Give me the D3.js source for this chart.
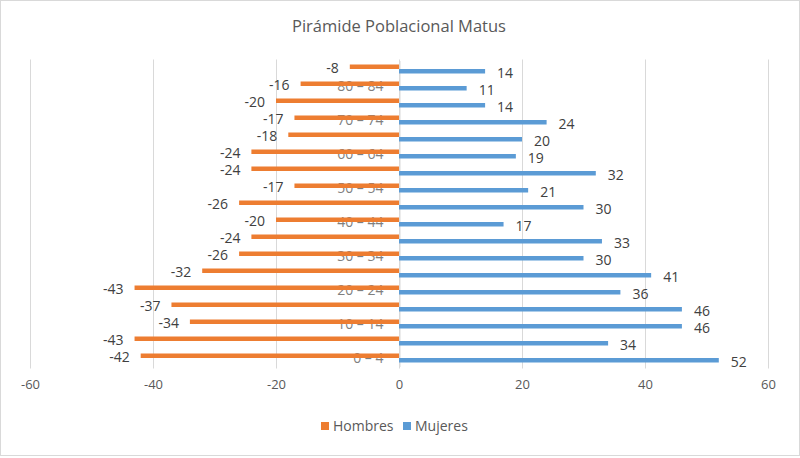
<!DOCTYPE html>
<html>
<head>
<meta charset="utf-8">
<script src="https://cdn.jsdelivr.net/npm/d3@7"></script>
<style>
  html, body { margin: 0; padding: 0; background: #fff; }
  svg { display: block; font-family: "Open Sans", "Noto Sans", sans-serif; }
</style>
</head>
<body>
<svg id="chart" width="800" height="458"></svg>
<script>
// ---- Data ----
const categories = ["0 – 4","5 – 9","10 – 14","15 – 19","20 – 24","25 – 29","30 – 34","35 – 39","40 – 44","45 – 49","50 – 54","55 – 59","60 – 64","65 – 69","70 – 74","75 – 79","80 – 84","85 y más"];
const hombres = [-42,-43,-34,-37,-43,-32,-26,-24,-20,-26,-17,-24,-24,-18,-17,-20,-16,-8];
const mujeres = [52,34,46,46,36,41,30,33,17,30,21,32,19,20,24,14,11,14];
const xTicks = [-60,-40,-20,0,20,40,60];
const seriesNames = ["Hombres","Mujeres"];
const seriesColors = ["#ED7D31","#5B9BD5"];
const title = "Pirámide Poblacional Matus";

const svg = d3.select("#chart");
const W = 800, H = 458;

// chart border
svg.append("rect").attr("x",0.5).attr("y",0.5).attr("width",W-1).attr("height",H-3)
  .attr("fill","#fff").attr("stroke","#d9d9d9");

const plot = {left:30, right:768, top:60.5, bottom:366.5};

const x = d3.scaleLinear().domain([-60,60]).range([plot.left, plot.right]);
const y = d3.scaleBand().domain(categories).range([plot.bottom, plot.top]).paddingInner(0).paddingOuter(0);
const sub = d3.scaleBand().domain(seriesNames).range([0, 9]);

// title
svg.append("text").attr("x",399).attr("y",32).attr("text-anchor","middle")
  .attr("font-size",16.5).attr("fill","#595959").text(title);

// gridlines
svg.append("g").selectAll("line").data(xTicks).join("line")
  .attr("x1",d=>Math.round(x(d))+0.5).attr("x2",d=>Math.round(x(d))+0.5)
  .attr("y1",plot.top-1).attr("y2",plot.bottom+2)
  .attr("stroke","#d9d9d9").attr("stroke-width",1);

// x axis labels
const xAxis = d3.axisBottom(x).tickValues(xTicks).tickSize(0).tickPadding(0).tickFormat(d => String(d));
const gx = svg.append("g").attr("transform",`translate(0,${plot.bottom+18})`).call(xAxis);
gx.select(".domain").remove();
gx.selectAll("text").attr("font-size",13).attr("fill","#595959").attr("font-family","Open Sans").attr("dy","0.35em").attr("y",0);

// y axis (category labels at zero)
const yAxis = d3.axisLeft(y).tickSize(0).tickPadding(16)
  .tickFormat((d,i)=> i%2===0 ? d : "");
const gy = svg.append("g").attr("transform",`translate(${Math.round(x(0))+0.5},0)`).call(yAxis);
gy.select(".domain").attr("stroke","#d9d9d9");
gy.selectAll("text").attr("font-size",14).attr("fill","#7f7f7f").attr("font-family","Open Sans").attr("dy","0.36em");

// bars
const groupOffset = (y.bandwidth() - 9) / 2;
const rows = categories.map((c,i)=>({cat:c, vals:[hombres[i], mujeres[i]]}));
const bars = svg.append("g");
seriesNames.forEach((s, si) => {
  bars.selectAll(".b"+si).data(rows).join("rect")
    .attr("x", d => x(Math.min(0, d.vals[si])))
    .attr("width", d => Math.abs(x(d.vals[si]) - x(0)))
    .attr("y", d => y(d.cat) + groupOffset + sub(s))
    .attr("height", sub.bandwidth())
    .attr("fill", seriesColors[si]);
});

// data labels
const labels = svg.append("g").attr("font-size",14).attr("fill","#404040");
seriesNames.forEach((s, si) => {
  labels.selectAll(".l"+si).data(rows).join("text")
    .attr("x", d => si===0 ? x(d.vals[si]) - 11 : x(d.vals[si]) + 12)
    .attr("y", d => y(d.cat) + groupOffset + sub(s) + sub.bandwidth()/2 + 1.5)
    .attr("dy","0.35em")
    .attr("text-anchor", si===0 ? "end" : "start")
    .text(d => d.vals[si]);
});

// legend
const legendItems = [{name:"Hombres", x:321},{name:"Mujeres", x:403}];
const lg = svg.append("g");
legendItems.forEach((it,i)=>{
  lg.append("rect").attr("x",it.x).attr("y",422).attr("width",8).attr("height",8).attr("fill",seriesColors[i]);
  lg.append("text").attr("x",it.x+12).attr("y",426).attr("dy","0.35em")
    .attr("font-size",14).attr("fill","#595959").text(it.name);
});
</script>
</body>
</html>
